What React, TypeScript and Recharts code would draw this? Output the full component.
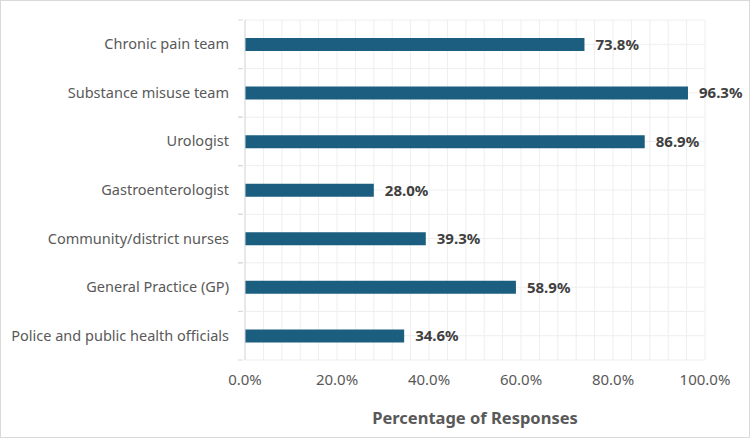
import { BarChart, Bar, XAxis, YAxis, CartesianGrid, LabelList, Label } from 'recharts';

const categories = [
  'Chronic pain team',
  'Substance misuse team',
  'Urologist',
  'Gastroenterologist',
  'Community/district nurses',
  'General Practice (GP)',
  'Police and public health officials',
];
const responses = [73.8, 96.3, 86.9, 28.0, 39.3, 58.9, 34.6];
const gridTicks = [0, 4, 8, 12, 16, 20, 24, 28, 32, 36, 40, 44, 48, 52, 56, 60, 64, 68, 72, 76, 80, 84, 88, 92, 96, 100];
const labelTicks = [0, 20, 40, 60, 80, 100];

const data = categories.map((name, i) => ({ name, value: responses[i] }));

const FONT = '"Noto Sans", "Open Sans", sans-serif';
const BAND = 340 / categories.length;

// category label plus the small boundary ticks left of the axis
const CategoryTick = (props: any) => {
  const { x, y, payload } = props;
  return (
    <g>
      <line x1={x - 5} x2={x} y1={y - BAND / 2} y2={y - BAND / 2} stroke="#d9d9d9" />
      <line x1={x - 5} x2={x} y1={y + BAND / 2} y2={y + BAND / 2} stroke="#d9d9d9" />
      <text x={x - 14} y={y} dy={5} textAnchor="end" fill="#595959" fontSize={14.5} fontFamily={FONT}>
        {payload.value}
      </text>
    </g>
  );
};

export default function App() {
  return (
    <div style={{ width: 750, height: 438, boxSizing: 'border-box', border: '1px solid #d9d9d9', background: '#fff' }}>
      <style>{'body{margin:0}'}</style>
      <BarChart
        width={748}
        height={436}
        data={data}
        layout="vertical"
        margin={{ top: 19, right: 44, bottom: 0, left: 0 }}
      >
        <CartesianGrid
          stroke="#eeeeee"
          horizontalCoordinatesGenerator={({ offset }: any) =>
            Array.from({ length: categories.length * 2 + 1 }, (_, i) => offset.top + (offset.height * i) / (categories.length * 2))
          }
        />
        <XAxis
          type="number"
          domain={[0, 100]}
          ticks={gridTicks}
          interval={0}
          tickFormatter={(v: number) => (labelTicks.includes(v) ? `${v.toFixed(1)}%` : '')}
          axisLine={false}
          tickLine={false}
          tickMargin={8}
          height={77}
          tick={{ fill: '#595959', fontSize: 15, fontFamily: FONT }}
        >
          <Label
            value="Percentage of Responses"
            position="insideBottom"
            offset={13}
            fill="#595959"
            fontSize={16.5}
            fontWeight="bold"
            fontFamily={FONT}
          />
        </XAxis>
        <YAxis
          type="category"
          dataKey="name"
          width={244}
          axisLine={{ stroke: '#d9d9d9' }}
          tickLine={false}
          tickSize={0}
          interval={0}
          tick={<CategoryTick />}
        />
        <Bar dataKey="value" fill="#1b5e7f" barSize={13} isAnimationActive={false}>
          <LabelList
            dataKey="value"
            position="right"
            offset={11}
            formatter={(v: any) => `${Number(v).toFixed(1)}%`}
            fill="#404040"
            fontSize={15}
            fontWeight="bold"
            fontFamily={FONT}
          />
        </Bar>
      </BarChart>
    </div>
  );
}
